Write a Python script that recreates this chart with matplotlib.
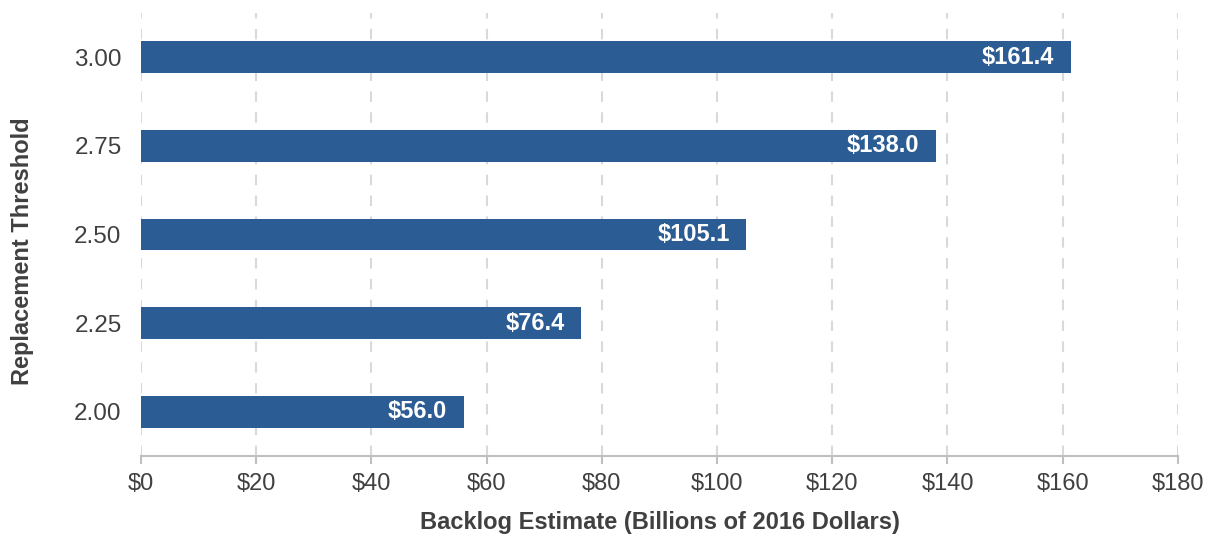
import matplotlib.pyplot as plt
import numpy as np

plt.rcParams['font.family'] = ['Liberation Sans', 'DejaVu Sans']

thresholds = ["2.00", "2.25", "2.50", "2.75", "3.00"]
backlog = [56.0, 76.4, 105.1, 138.0, 161.4]
xticks = np.arange(0, 181, 20)

fig = plt.figure(figsize=(12.11, 5.36), dpi=100)
ax = fig.add_axes([0.1164, 0.1493, 0.8563, 0.8264])

y = np.arange(len(thresholds))
ax.barh(y, backlog, height=0.36, color="#2b5c94", zorder=3)

for yi, v in zip(y, backlog):
    ax.annotate("$%.1f" % v, (v, yi), xytext=(-12, 0), textcoords="offset points",
                ha="right", va="center", color="white", fontsize=17,
                fontweight="bold", zorder=4)

ax.set_xlim(0, 180)
ax.set_ylim(-0.5, 4.5)
ax.set_xticks(xticks)
ax.set_xticklabels(["$%d" % t for t in xticks])
ax.set_yticks(y)
ax.set_yticklabels(thresholds)

ax.grid(axis="x", linestyle=(0, (5, 5)), color="#d9d9d9", linewidth=1.5, zorder=0)
for s in ["top", "right", "left"]:
    ax.spines[s].set_visible(False)
ax.spines["bottom"].set_color("#bfbfbf")
ax.spines["bottom"].set_linewidth(1.5)
ax.tick_params(axis="x", length=6, width=1.5, color="#bfbfbf", labelsize=17,
               labelcolor="#404040", pad=6)
ax.tick_params(axis="y", length=0, labelsize=17.5, labelcolor="#404040", pad=14)

ax.set_xlabel("Backlog Estimate (Billions of 2016 Dollars)", fontsize=17,
              fontweight="bold", color="#404040", labelpad=12)
ax.set_ylabel("Replacement Threshold", fontsize=17, fontweight="bold",
              color="#404040")
ax.yaxis.set_label_coords(-0.103, 0.462)

fig.savefig("out.png", dpi=100)
